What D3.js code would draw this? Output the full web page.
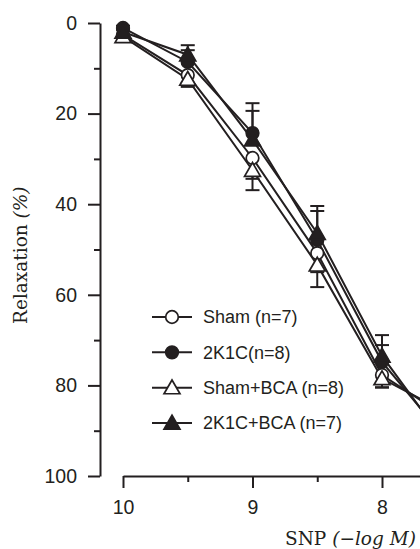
<!DOCTYPE html>
<html>
<head>
<meta charset="utf-8">
<script src="https://cdn.jsdelivr.net/npm/d3@7"></script>
<style>
  html, body { margin: 0; padding: 0; background: #fff; }
  svg { display: block; overflow: hidden; }
</style>
</head>
<body>
<svg id="chart" width="420" height="549"></svg>
<script>
// -log M concentrations of SNP
var doses = [10, 9.5, 9, 8.5, 8, 7.5];

var seriesNames = ["Sham (n=7)", "2K1C(n=8)", "Sham+BCA (n=8)", "2K1C+BCA (n=7)"];
var sham = [2.6, 11.5, 29.8, 50.8, 77.7, 87];
var shamErr = [0.5, 1.7, 4.6, 4.2, 2.7, 2.5];
var k1c = [1.1, 8.6, 24.3, 47.9, 74.8, 92];
var k1cErr = [0.5, 2.6, 6.6, 6.4, 3.7, 3];
var shamBca = [3.0, 12.4, 32.5, 53.4, 78.5, 86];
var shamBcaErr = [0.5, 1.7, 4.4, 4.9, 2.0, 2.5];
var k1cBca = [2.0, 7.0, 25.8, 46.4, 73.5, 93];
var k1cBcaErr = [0.5, 2.1, 6.4, 6.0, 4.6, 3];

var yMajor = [0, 20, 40, 60, 80, 100];
var yMinor = [10, 30, 50, 70, 90];
var xMajor = [10, 9, 8];
var xMinor = [9.5, 8.5, 7.5];

var ink = "#231f20";

var svg = d3.select("#chart");

var x = d3.scaleLinear().domain([10, 7]).range([123, 511.5]);
var y = d3.scaleLinear().domain([0, 100]).range([23, 476]);

// open markers get their error bar downward, filled ones upward
var series = [
  {name: seriesNames[0], values: sham, err: shamErr, shape: d3.symbolCircle, fill: "#fff", dir: 1},
  {name: seriesNames[1], values: k1c, err: k1cErr, shape: d3.symbolCircle, fill: ink, dir: -1},
  {name: seriesNames[2], values: shamBca, err: shamBcaErr, shape: d3.symbolTriangle, fill: "#fff", dir: 1},
  {name: seriesNames[3], values: k1cBca, err: k1cBcaErr, shape: d3.symbolTriangle, fill: ink, dir: -1}
];

function symbolSize(shape) {
  return shape === d3.symbolCircle ? 125 : 110;
}

// y axis
var yAxis = svg.append("g").attr("transform", "translate(100,0)");
yAxis.call(d3.axisLeft(y).tickValues(yMajor).tickSize(12).tickPadding(11).tickSizeOuter(0));
yAxis.append("g").call(d3.axisLeft(y).tickValues(yMinor).tickSize(6).tickFormat("").tickSizeOuter(0))
  .select(".domain").remove();

// x axis
var xAxis = svg.append("g").attr("transform", "translate(0,476)");
xAxis.call(d3.axisBottom(x).tickValues(xMajor).tickSize(12).tickPadding(12).tickSizeOuter(0)
  .tickFormat(d3.format("d")));
xAxis.append("g").call(d3.axisBottom(x).tickValues(xMinor).tickSize(6).tickFormat("").tickSizeOuter(0))
  .select(".domain").remove();

svg.selectAll(".domain, .tick line").attr("stroke", ink).attr("stroke-width", 2);
svg.selectAll(".tick text")
  .attr("fill", ink)
  .style("font-family", "'Liberation Sans', Arial, sans-serif")
  .style("font-size", "19.5px");

// axis titles
svg.append("text")
  .attr("x", 285).attr("y", 545)
  .attr("fill", ink)
  .style("font-family", "'DejaVu Serif', serif")
  .style("font-size", "18.5px")
  .html("SNP <tspan font-style='italic'>(\u2212log M)</tspan>");

svg.append("text")
  .attr("transform", "translate(27,324) rotate(-90)")
  .attr("fill", ink)
  .style("font-family", "'DejaVu Serif', serif")
  .style("font-size", "18.5px")
  .html("Relaxation <tspan font-style='italic'>(%)</tspan>");

// lines
var line = d3.line()
  .x(function(d, i) { return x(doses[i]); })
  .y(function(d) { return y(d); });

var plot = svg.append("g");

plot.selectAll("path.series")
  .data(series)
  .enter().append("path")
  .attr("class", "series")
  .attr("d", function(s) { return line(s.values); })
  .attr("fill", "none")
  .attr("stroke", ink)
  .attr("stroke-width", 2);

// error bars
series.forEach(function(s) {
  var g = plot.append("g");
  var pts = s.values.map(function(v, i) {
    return {x: x(doses[i]), y0: y(v), y1: y(v + s.dir * s.err[i])};
  });
  g.selectAll("line.stem").data(pts).enter().append("line")
    .attr("x1", function(d) { return d.x; })
    .attr("x2", function(d) { return d.x; })
    .attr("y1", function(d) { return d.y0; })
    .attr("y2", function(d) { return d.y1; })
    .attr("stroke", ink).attr("stroke-width", 2);
  g.selectAll("line.cap").data(pts).enter().append("line")
    .attr("x1", function(d) { return d.x - 7; })
    .attr("x2", function(d) { return d.x + 7; })
    .attr("y1", function(d) { return d.y1; })
    .attr("y2", function(d) { return d.y1; })
    .attr("stroke", ink).attr("stroke-width", 2);
});

// markers
series.forEach(function(s) {
  plot.selectAll(null).data(s.values).enter().append("path")
    .attr("d", d3.symbol().type(s.shape).size(symbolSize(s.shape)))
    .attr("transform", function(d, i) {
      var dy = s.shape === d3.symbolTriangle ? 1.5 : 0;
      return "translate(" + x(doses[i]) + "," + (y(d) + dy) + ")";
    })
    .attr("fill", s.fill)
    .attr("stroke", ink)
    .attr("stroke-width", 1.7);
});

// legend
var legend = svg.append("g");
var rowY = d3.scalePoint().domain(seriesNames).range([317, 423]);

var item = legend.selectAll("g").data(series).enter().append("g")
  .attr("transform", function(s) { return "translate(0," + rowY(s.name) + ")"; });

item.append("line")
  .attr("x1", 152).attr("x2", 192)
  .attr("stroke", ink).attr("stroke-width", 2);

item.append("path")
  .attr("d", function(s) { return d3.symbol().type(s.shape).size(symbolSize(s.shape))(); })
  .attr("transform", function(s) { return "translate(172," + (s.shape === d3.symbolTriangle ? 1.5 : 0) + ")"; })
  .attr("fill", function(s) { return s.fill; })
  .attr("stroke", ink).attr("stroke-width", 1.7);

item.append("text")
  .attr("x", 203).attr("dy", "0.36em")
  .attr("fill", ink)
  .style("font-family", "'Liberation Sans', Arial, sans-serif")
  .style("font-size", "18px")
  .text(function(s) { return s.name; });
</script>
</body>
</html>
